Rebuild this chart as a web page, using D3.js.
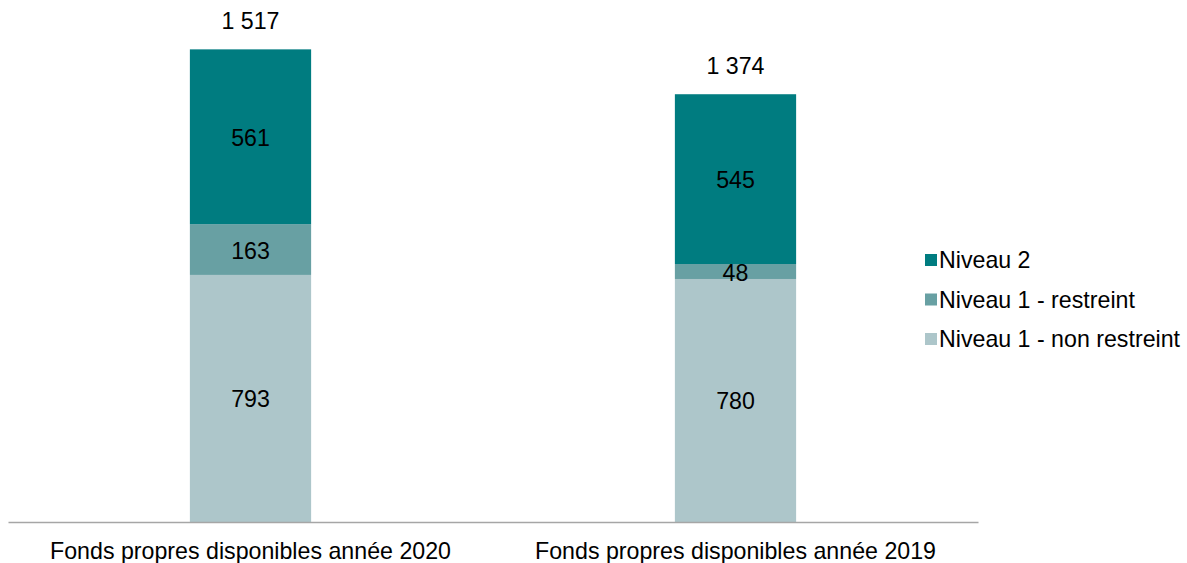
<!DOCTYPE html>
<html>
<head>
<meta charset="utf-8">
<script src="https://cdn.jsdelivr.net/npm/d3@7"></script>
<style>
  html, body { margin: 0; padding: 0; background: #fff; }
  svg { display: block; }
  text { font-family: "Liberation Sans", Arial, sans-serif; fill: #000; }
</style>
</head>
<body>
<svg id="chart" width="1187" height="563"></svg>
<script>
const categories = ["Fonds propres disponibles année 2020", "Fonds propres disponibles année 2019"];
const seriesNames = ["Niveau 1 - non restreint", "Niveau 1 - restreint", "Niveau 2"];
const nonRestreint = [793, 780];
const restreint = [163, 48];
const niveau2 = [561, 545];
const totals = [1517, 1374];
const totalLabels = ["1 517", "1 374"];
const colors = ["#adc6ca", "#68a0a3", "#007c80"];

const svg = d3.select("#chart");
const fontSize = 23.2;

const x = d3.scaleBand().domain(categories).range([8, 978]).padding(0);
const barW = x.bandwidth() * 0.25;
const y = d3.scaleLinear().domain([0, 1600]).range([522, 23.5]);

const rows = categories.map((c, i) => ({
  cat: c,
  "Niveau 1 - non restreint": nonRestreint[i],
  "Niveau 1 - restreint": restreint[i],
  "Niveau 2": niveau2[i]
}));
const stack = d3.stack().keys(seriesNames)(rows);

const layers = svg.append("g").selectAll("g").data(stack).join("g")
  .attr("fill", (d, i) => colors[i]);

layers.selectAll("rect").data(d => d).join("rect")
  .attr("x", d => x(d.data.cat) + x.bandwidth() / 2 - barW / 2)
  .attr("width", barW)
  .attr("y", d => y(d[1]))
  .attr("height", d => y(d[0]) - y(d[1]));

layers.selectAll("text").data(d => d.map(v => ({v, key: d.key}))).join("text")
  .attr("x", d => x(d.v.data.cat) + x.bandwidth() / 2)
  .attr("y", d => (y(d.v[0]) + y(d.v[1])) / 2 + 1)
  .attr("text-anchor", "middle")
  .attr("dominant-baseline", "central")
  .attr("font-size", fontSize)
  .text(d => d.v.data[d.key]);

// totals
svg.append("g").selectAll("text").data(categories).join("text")
  .attr("x", c => x(c) + x.bandwidth() / 2)
  .attr("y", (c, i) => y(totals[i]) - 20)
  .attr("text-anchor", "middle")
  .attr("font-size", fontSize)
  .text((c, i) => totalLabels[i]);

// x axis
const xAxis = svg.append("g").attr("transform", "translate(0,522)")
  .call(d3.axisBottom(x).tickSize(0).tickPadding(0));
xAxis.select(".domain").attr("stroke", "#a6a6a6").attr("stroke-width", 1.3);
xAxis.selectAll(".tick text")
  .attr("font-size", fontSize)
  .attr("font-family", "'Liberation Sans', Arial, sans-serif")
  .attr("fill", "#000")
  .attr("dy", null)
  .attr("y", 37);

// legend
const legendItems = ["Niveau 2", "Niveau 1 - restreint", "Niveau 1 - non restreint"];
const legendColors = [colors[2], colors[1], colors[0]];
const lg = svg.append("g").selectAll("g").data(legendItems).join("g")
  .attr("transform", (d, i) => `translate(925,${260 + i * 39.5})`);
lg.append("rect").attr("x", 0).attr("y", -6).attr("width", 12).attr("height", 12)
  .attr("fill", (d, i) => legendColors[i]);
lg.append("text").attr("x", 14).attr("y", 0)
  .attr("dominant-baseline", "central")
  .attr("font-size", fontSize)
  .text(d => d);
</script>
</body>
</html>
